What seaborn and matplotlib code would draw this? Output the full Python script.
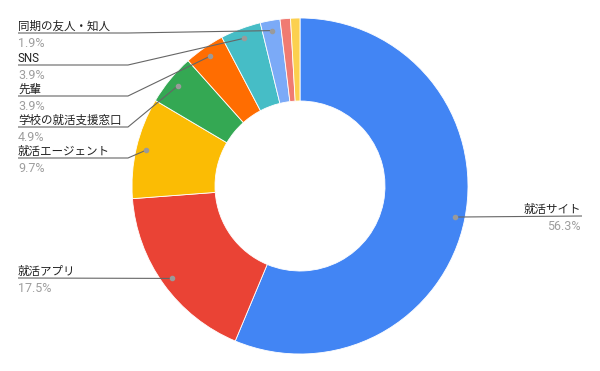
import numpy as np
import matplotlib
matplotlib.use("Agg")
import matplotlib.pyplot as plt
import seaborn as sns

# data (two tiny slices at the end are unlabeled in the original)
categories = ["就活サイト", "就活アプリ", "就活エージェント", "学校の就活支援窓口",
              "先輩", "SNS", "同期の友人・知人", "", ""]
shares = [56.3, 17.5, 9.7, 4.9, 3.9, 3.9, 1.9, 1.0, 0.9]
colors = ["#4285F4", "#EA4335", "#FBBC04", "#34A853", "#FF6D01",
          "#46BDC6", "#7BAAF7", "#F07B72", "#FCD04F"]

sns.set_theme(style="white")
plt.rcParams["font.family"] = ["Roboto", "Noto Sans CJK JP", "DejaVu Sans"]

W, H = 600, 371
fig = plt.figure(figsize=(6, 3.71), dpi=100)
ax = fig.add_axes([0, 0, 1, 1])

def Y(y):
    # pixel row (top-down) -> axis y
    return H - y

cx, cy, R, r_in = 300, 186, 168, 85
ax.pie(shares, colors=sns.color_palette(colors), startangle=90, counterclock=False,
       center=(cx, Y(cy)), radius=R,
       wedgeprops=dict(width=R - r_in, edgecolor="white", linewidth=0.6))
ax.set_xlim(0, W)
ax.set_ylim(0, H)
ax.set_aspect("equal")
ax.axis("off")

# dot at the middle of each slice, near the outer edge
total = sum(shares)
cum = np.cumsum([0] + shares[:-1])
mids = (cum + np.array(shares) / 2) / total * 2 * np.pi
dot_r = 0.94 * R
dots = [(cx + dot_r * np.sin(a), Y(cy) + dot_r * np.cos(a)) for a in mids]

line_col = "#666666"
pct_col = "#9e9e9e"
txt_col = "#222222"

# label layout: (line row in px, side)
layout = {
    "同期の友人・知人": (33, "L"),
    "SNS": (65, "L"),
    "先輩": (96, "L"),
    "学校の就活支援窓口": (127, "L"),
    "就活エージェント": (158, "L"),
    "就活アプリ": (278, "L"),
    "就活サイト": (216, "R"),
}
bend_x = 128

for i, name in enumerate(categories):
    if name not in layout:
        continue
    ly, side = layout[name]
    dx, dy = dots[i]
    if side == "L":
        if name == "就活アプリ":
            xs, ys = [18, dx], [Y(ly), dy]
        else:
            xs, ys = [18, bend_x, dx], [Y(ly), Y(ly), dy]
        tx, ha = 18, "left"
    else:
        xs, ys = [dx, 582], [dy, Y(ly)]
        tx, ha = 581, "right"
    ax.plot(xs, ys, color=line_col, lw=0.8, solid_capstyle="butt")
    ax.plot([dx], [dy], "o", ms=3, color="#9a9a9a", mec="#9a9a9a")
    ax.text(tx, Y(ly - 3), name, ha=ha, va="baseline", fontsize=8.3, color=txt_col)
    ax.text(tx, Y(ly + 14), f"{shares[i]:.1f}%", ha=ha, va="baseline",
            fontsize=9, color=pct_col)

fig.savefig("out.png", dpi=100, facecolor="white")
